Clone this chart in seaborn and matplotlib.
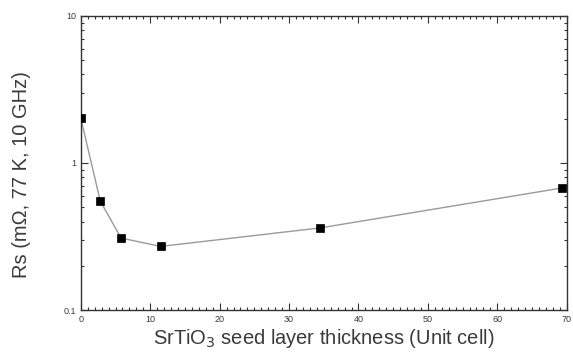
import pandas as pd
import matplotlib.pyplot as plt
import matplotlib.ticker as mticker
import seaborn as sns

# --- Data ---
thickness = [0, 2.8, 5.8, 11.5, 34.5, 69.3]
rs_values = [2.02, 0.552, 0.309, 0.271, 0.362, 0.676]

df = pd.DataFrame({'thickness': thickness, 'rs': rs_values})

# --- Style ---
sns.set_style('ticks')
plt.rcParams['font.family'] = ['Liberation Sans', 'DejaVu Sans']
text_color = '#3a3a3a'

fig, ax = plt.subplots(figsize=(5.73, 3.61), dpi=100)
fig.subplots_adjust(left=0.141, right=0.989, top=0.956, bottom=0.141)

# --- Plot ---
sns.lineplot(data=df, x='thickness', y='rs', ax=ax, color='#9a9a9a', linewidth=1.0)
sns.scatterplot(data=df, x='thickness', y='rs', ax=ax, marker='s', s=30,
                color='black', edgecolor='black', linewidth=0.5, zorder=3)

ax.set_yscale('log')
ax.set_xlim(0, 70)
ax.set_ylim(0.1, 10)

ax.xaxis.set_major_locator(mticker.MultipleLocator(10))
ax.xaxis.set_minor_locator(mticker.MultipleLocator(1))
ax.yaxis.set_major_locator(mticker.LogLocator(base=10))
ax.yaxis.set_minor_locator(mticker.LogLocator(base=10, subs=range(2, 10)))
ax.yaxis.set_major_formatter(mticker.FuncFormatter(lambda v, _: f'{v:g}'))
ax.yaxis.set_minor_formatter(mticker.NullFormatter())

ax.tick_params(which='both', direction='in', top=True, right=True,
               colors='#333333', labelcolor=text_color, labelsize=6.5, width=0.8)
ax.tick_params(which='major', length=5)
ax.tick_params(which='minor', length=2.5)
for spine in ax.spines.values():
    spine.set_visible(True)
    spine.set_color('#333333')
    spine.set_linewidth(1.0)

ax.set_xlabel('SrTiO$_3$ seed layer thickness (Unit cell)', fontsize=14.5, color=text_color, labelpad=2)
ax.set_ylabel('Rs (m\u03a9, 77 K, 10 GHz)', fontsize=14.5, color=text_color)
ax.yaxis.set_label_coords(-0.103, 0.46)

fig.savefig('out.png', dpi=100)
